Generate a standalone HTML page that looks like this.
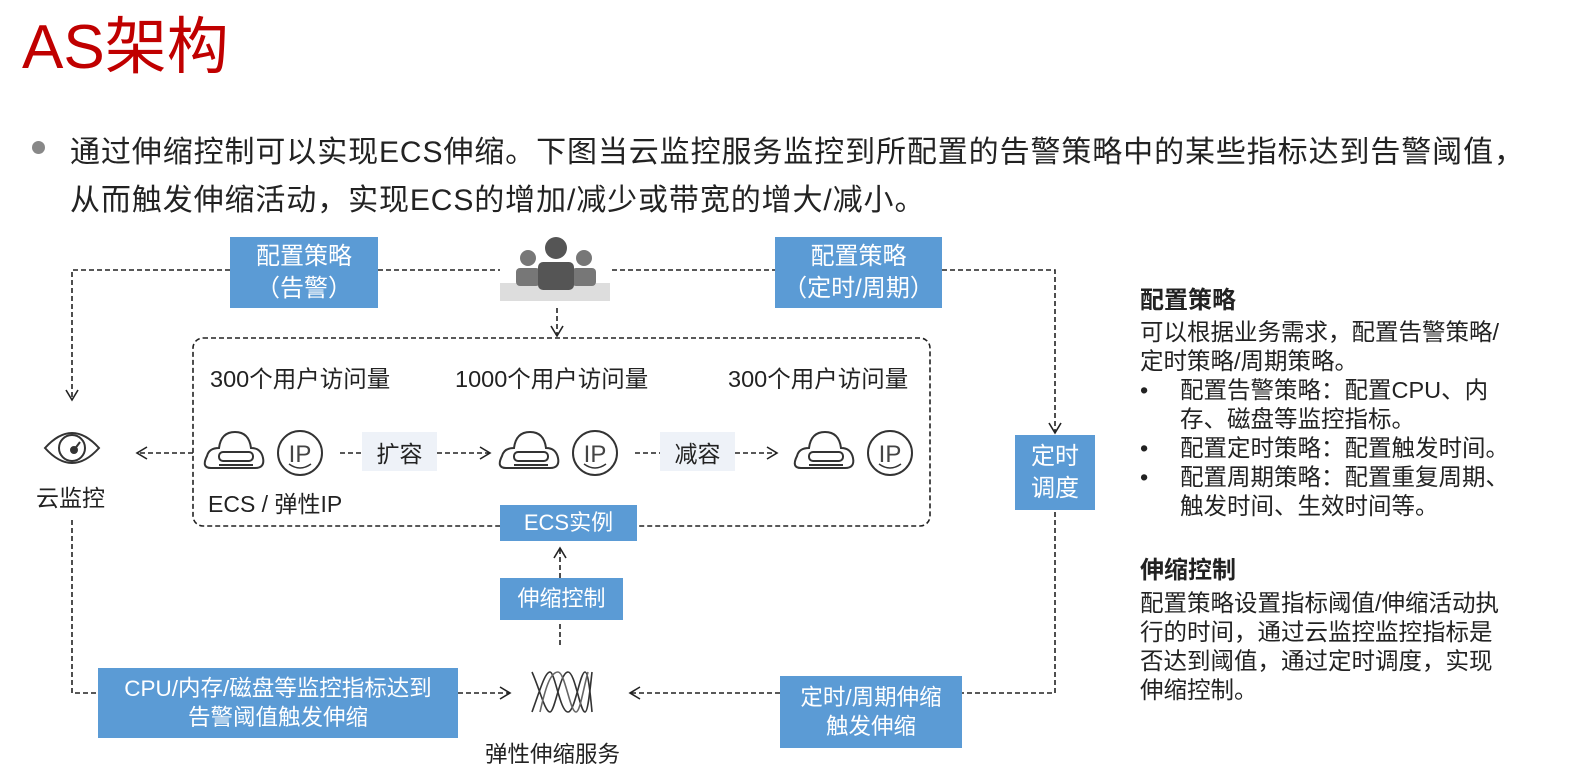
<!DOCTYPE html>
<html><head><meta charset="utf-8">
<style>
body{margin:0;width:1574px;height:782px;background:#fff;position:relative;overflow:hidden;font-family:"Liberation Sans","Noto Sans CJK SC",sans-serif;color:#222}
.a{position:absolute;white-space:nowrap}
.box{position:absolute;background:#5b9bd5;color:#fff;display:flex;align-items:center;justify-content:center;text-align:center;line-height:1.3}
.lt{position:absolute;background:#eef2f8;display:flex;align-items:center;justify-content:center;font-size:23px}
.r{position:absolute;left:1140px;font-size:23.5px;white-space:nowrap;line-height:29px}
</style></head><body>
<div class="a" style="left:22px;top:-4px;font-size:62px;color:#c00000;">AS架构</div>
<div class="a" style="left:32px;top:141px;width:13px;height:13px;border-radius:50%;background:#888"></div>
<div class="a" style="left:70px;top:127px;font-size:30px;letter-spacing:0.9px">通过伸缩控制可以实现ECS伸缩。下图当云监控服务监控到所配置的告警策略中的某些指标达到告警阈值，</div>
<div class="a" style="left:70px;top:175px;font-size:30px;letter-spacing:0.9px">从而触发伸缩活动，实现ECS的增加/减少或带宽的增大/减小。</div>

<svg class="a" style="left:0;top:0" width="1574" height="782">
<defs><marker id="m" markerWidth="14" markerHeight="14" refX="12" refY="7" orient="auto" markerUnits="userSpaceOnUse"><path d="M2,1 L12,7 L2,13" fill="none" stroke="#222" stroke-width="1.6"/></marker></defs>
<g stroke="#222" stroke-width="1.6" stroke-dasharray="5,3" fill="none">
<path d="M230,270 H72 V400" marker-end="url(#m)"/>
<path d="M378,270 H500"/>
<path d="M612,270 H775"/>
<path d="M942,270 H1055 V433" marker-end="url(#m)"/>
<path d="M1055,512 V693 H962"/>
<path d="M557,308 V336" marker-end="url(#m)"/>
<rect x="193" y="338" width="737" height="188" rx="10"/>
<path d="M193,453 H137" marker-end="url(#m)"/>
<path d="M340,453 H362"/><path d="M437,453 H490" marker-end="url(#m)"/>
<path d="M635,453 H660"/><path d="M735,453 H777" marker-end="url(#m)"/>
<path d="M72,520 V693 H98"/>
<path d="M458,693 H510" marker-end="url(#m)"/>
<path d="M780,693 H630" marker-end="url(#m)"/>
<path d="M560,645 V623"/>
<path d="M560,578 V548" marker-end="url(#m)"/>
</g>
<g fill="#777">
<rect x="500" y="283" width="110" height="18" fill="#ddd"/>
<circle cx="528" cy="258" r="8"/><rect x="516" y="268" width="24" height="18" rx="4"/>
<circle cx="584" cy="258" r="8"/><rect x="572" y="268" width="24" height="18" rx="4"/>
<circle cx="556" cy="248" r="11" fill="#555"/><rect x="538" y="262" width="36" height="28" rx="5" fill="#555"/>
</g>
<g fill="none" stroke="#333" stroke-width="2">
<path d="M45,448 Q72,418 99,448 Q72,478 45,448Z"/><circle cx="72" cy="448" r="13"/>
<circle cx="74" cy="450" r="3" fill="#333"/><path d="M74,450 L80,442"/>
</g>
<g fill="none" stroke="#333" stroke-width="2">
<g transform="translate(205,430)"><path d="M6,38 Q-4,38 2,26 Q4,18 14,18 Q16,2 30,2 Q44,2 46,18 Q56,18 58,28 Q60,38 50,38 Z"/><rect x="14" y="22" width="34" height="9" rx="4"/><path d="M14,35 H48"/><circle cx="95" cy="23" r="22"/><path d="M84,34 Q95,42 106,34" stroke-width="1.5"/></g>
<g transform="translate(500,430)"><path d="M6,38 Q-4,38 2,26 Q4,18 14,18 Q16,2 30,2 Q44,2 46,18 Q56,18 58,28 Q60,38 50,38 Z"/><rect x="14" y="22" width="34" height="9" rx="4"/><path d="M14,35 H48"/><circle cx="95" cy="23" r="22"/><path d="M84,34 Q95,42 106,34" stroke-width="1.5"/></g>
<g transform="translate(795,430)"><path d="M6,38 Q-4,38 2,26 Q4,18 14,18 Q16,2 30,2 Q44,2 46,18 Q56,18 58,28 Q60,38 50,38 Z"/><rect x="14" y="22" width="34" height="9" rx="4"/><path d="M14,35 H48"/><circle cx="95" cy="23" r="22"/><path d="M84,34 Q95,42 106,34" stroke-width="1.5"/></g>
</g>
<g font-family="Liberation Sans" font-size="24" fill="#444" text-anchor="middle">
<text x="300" y="462">IP</text><text x="595" y="462">IP</text><text x="890" y="462">IP</text>
</g>
<g fill="none" stroke="#333" stroke-width="1.6">
<path d="M532,712 C540,690 545,672 550,672 C555,672 560,712 568,712 C575,712 580,672 585,672 C588,672 590,690 592,712"/>
<path d="M532,672 C540,690 545,712 550,712 C555,712 560,672 568,672 C575,672 580,712 585,712 C588,712 590,690 592,672"/>
<path d="M540,712 C545,690 550,672 558,672 C565,672 570,712 576,712 C580,712 583,690 588,672" stroke="#666"/>
</g>
</svg>

<div class="box" style="left:230px;top:237px;width:148px;height:71px;font-size:24px">配置策略<br>（告警）</div>
<div class="box" style="left:775px;top:237px;width:167px;height:71px;font-size:24px">配置策略<br>（定时/周期）</div>
<div class="a" style="left:210px;top:360px;font-size:23.5px">300个用户访问量</div>
<div class="a" style="left:455px;top:360px;font-size:23.5px">1000个用户访问量</div>
<div class="a" style="left:728px;top:360px;font-size:23.5px">300个用户访问量</div>
<div class="lt" style="left:362px;top:432px;width:75px;height:39px">扩容</div>
<div class="lt" style="left:660px;top:432px;width:75px;height:39px">减容</div>
<div class="a" style="left:208px;top:485px;font-size:23px">ECS / 弹性IP</div>
<div class="a" style="left:36px;top:479px;font-size:23px">云监控</div>
<div class="box" style="left:500px;top:505px;width:137px;height:36px;font-size:22px">ECS实例</div>
<div class="box" style="left:500px;top:578px;width:123px;height:42px;font-size:22px">伸缩控制</div>
<div class="box" style="left:1015px;top:435px;width:80px;height:75px;font-size:24px">定时<br>调度</div>
<div class="box" style="left:98px;top:668px;width:360px;height:70px;font-size:22.5px">CPU/内存/磁盘等监控指标达到<br>告警阈值触发伸缩</div>
<div class="box" style="left:780px;top:676px;width:182px;height:72px;font-size:22.5px">定时/周期伸缩<br>触发伸缩</div>
<div class="a" style="left:485px;top:737px;font-size:22.5px">弹性伸缩服务</div>

<div class="r" style="top:286px;font-size:24px;font-weight:bold">配置策略</div>
<div class="r" style="top:318px">可以根据业务需求，配置告警策略/<br>定时策略/周期策略。</div>
<div class="r" style="top:376px">•<span style="position:absolute;left:40px">配置告警策略：配置CPU、内<br>存、磁盘等监控指标。</span></div>
<div class="r" style="top:434px">•<span style="position:absolute;left:40px">配置定时策略：配置触发时间。</span></div>
<div class="r" style="top:463px">•<span style="position:absolute;left:40px">配置周期策略：配置重复周期、<br>触发时间、生效时间等。</span></div>
<div class="r" style="top:556px;font-size:24px;font-weight:bold">伸缩控制</div>
<div class="r" style="top:589px">配置策略设置指标阈值/伸缩活动执<br>行的时间，通过云监控监控指标是<br>否达到阈值，通过定时调度，实现<br>伸缩控制。</div>
</body></html>
